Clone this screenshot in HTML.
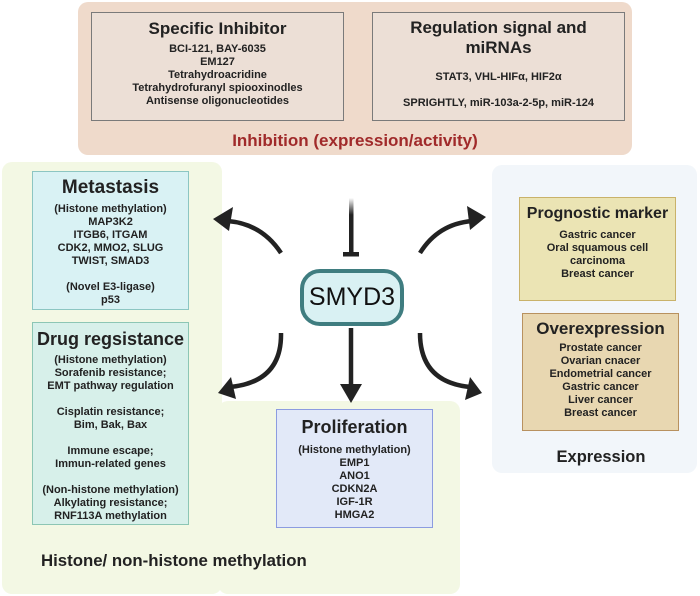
<!DOCTYPE html>
<html><head><meta charset="utf-8">
<style>
*{margin:0;padding:0;box-sizing:border-box}
body{width:700px;height:596px;background:#fff;position:relative;overflow:hidden;font-family:"Liberation Sans",sans-serif;color:#222}
.a{position:absolute}
.box{position:absolute;text-align:center;font-weight:bold;white-space:nowrap}
.t{font-weight:bold;color:#222;white-space:nowrap}
</style></head><body>
<!-- panels -->
<div class="a" style="left:78px;top:2px;width:554px;height:153px;background:#efdacb;border-radius:10px"></div>
<div class="a" style="left:2px;top:162px;width:220px;height:432px;background:#f3f8e4;border-radius:10px"></div>
<div class="a" style="left:218px;top:401px;width:242px;height:193px;background:#f3f8e4;border-radius:10px"></div>
<div class="a" style="left:492px;top:165px;width:205px;height:308px;background:#f2f6fa;border-radius:10px"></div>

<!-- top boxes -->
<div class="box" style="left:91px;top:12px;width:253px;height:109px;background:#ecdfd6;border:1px solid #7a7a7a">
 <div style="font-size:17px;margin-top:5px;line-height:21px">Specific Inhibitor</div>
 <div style="font-size:11px;line-height:13px;margin-top:4px">BCI-121, BAY-6035<br>EM127<br>Tetrahydroacridine<br>Tetrahydrofuranyl spiooxinodles<br>Antisense oligonucleotides</div>
</div>
<div class="box" style="left:372px;top:12px;width:253px;height:109px;background:#ecdfd6;border:1px solid #7a7a7a">
 <div style="font-size:17px;margin-top:5px;line-height:20px">Regulation signal and<br>miRNAs</div>
 <div style="font-size:11px;line-height:13px;margin-top:13px">STAT3, VHL-HIFα, HIF2α</div>
 <div style="font-size:11px;line-height:13px;margin-top:13px">SPRIGHTLY, miR-103a-2-5p, miR-124</div>
</div>
<div class="a" style="left:78px;width:554px;top:131px;text-align:center;font-size:17px;font-weight:bold;color:#a02a2a">Inhibition (expression/activity)</div>

<!-- left boxes -->
<div class="box" style="left:32px;top:171px;width:157px;height:139px;background:#d9f2f4;border:1px solid #8cc6c2">
 <div style="font-size:19px;margin-top:5px;line-height:22px">Metastasis</div>
 <div style="font-size:11px;line-height:13px;margin-top:4px">(Histone methylation)<br>MAP3K2<br>ITGB6, ITGAM<br>CDK2, MMO2, SLUG<br>TWIST, SMAD3<br><br>(Novel E3-ligase)<br>p53</div>
</div>
<div class="box" style="left:32px;top:322px;width:157px;height:203px;background:#d7f0ea;border:1px solid #8cc6b4">
 <div style="font-size:18px;margin-top:5px;line-height:22px">Drug regsistance</div>
 <div style="font-size:11px;line-height:13px;margin-top:4px">(Histone methylation)<br>Sorafenib resistance;<br>EMT pathway regulation<br><br>Cisplatin resistance;<br>Bim, Bak, Bax<br><br>Immune escape;<br>Immun-related genes<br><br>(Non-histone methylation)<br>Alkylating resistance;<br>RNF113A methylation</div>
</div>
<div class="a t" style="left:41px;top:551px;font-size:16.8px">Histone/ non-histone methylation</div>

<!-- proliferation -->
<div class="box" style="left:276px;top:409px;width:157px;height:119px;background:#e2e9f8;border:1px solid #8c9ce0">
 <div style="font-size:18px;margin-top:6px;line-height:22px">Proliferation</div>
 <div style="font-size:11px;line-height:13px;margin-top:6px">(Histone methylation)<br>EMP1<br>ANO1<br>CDKN2A<br>IGF-1R<br>HMGA2</div>
</div>

<!-- right boxes -->
<div class="box" style="left:519px;top:197px;width:157px;height:104px;background:#ebe4b4;border:1px solid #c9b26a">
 <div style="font-size:16px;margin-top:6px;line-height:20px">Prognostic marker</div>
 <div style="font-size:11px;line-height:13px;margin-top:5px">Gastric cancer<br>Oral squamous cell<br>carcinoma<br>Breast cancer</div>
</div>
<div class="box" style="left:522px;top:313px;width:157px;height:118px;background:#e8d7b1;border:1px solid #b8915f">
 <div style="font-size:17px;margin-top:4px;line-height:21px">Overexpression</div>
 <div style="font-size:11px;line-height:13px;margin-top:3px">Prostate cancer<br>Ovarian cnacer<br>Endometrial cancer<br>Gastric cancer<br>Liver cancer<br>Breast cancer</div>
</div>
<div class="a t" style="left:492px;width:218px;top:448px;text-align:center;font-size:16.5px">Expression</div>

<!-- arrows -->
<svg class="a" style="left:0;top:0" width="700" height="596">
 <defs>
  <linearGradient id="g" x1="0" y1="0" x2="0" y2="1"><stop offset="0" stop-color="#222" stop-opacity="0"/><stop offset="0.3" stop-color="#222"/></linearGradient>
 </defs>
 <rect x="349" y="198" width="4.5" height="56" fill="url(#g)"/>
 <rect x="343" y="252" width="16" height="4.5" fill="#222"/>
 <g fill="none" stroke="#222" stroke-width="4.5">
  <path d="M281 253 Q262 224 228 221"/>
  <path d="M281 333 Q282 382 230 387"/>
  <path d="M351 328 L351 386"/>
  <path d="M420 253 Q438 224 472 221"/>
  <path d="M420 333 Q420 382 470 387"/>
 </g>
 <g fill="#222">
  <polygon points="213,219 233,207 229,231"/>
  <polygon points="218,393 231,377 236,399"/>
  <polygon points="340,384 362,384 351,403"/>
  <polygon points="486,217 467,206 470,230"/>
  <polygon points="482,393 470,377 465,400"/>
 </g>
</svg>

<!-- SMYD3 -->
<div class="a" style="left:300px;top:269px;width:104px;height:57px;background:#d9f1f3;border:4px solid #3f7d80;border-radius:20px;text-align:center;font-size:25px;line-height:49px;color:#111">SMYD3</div>
</body></html>
